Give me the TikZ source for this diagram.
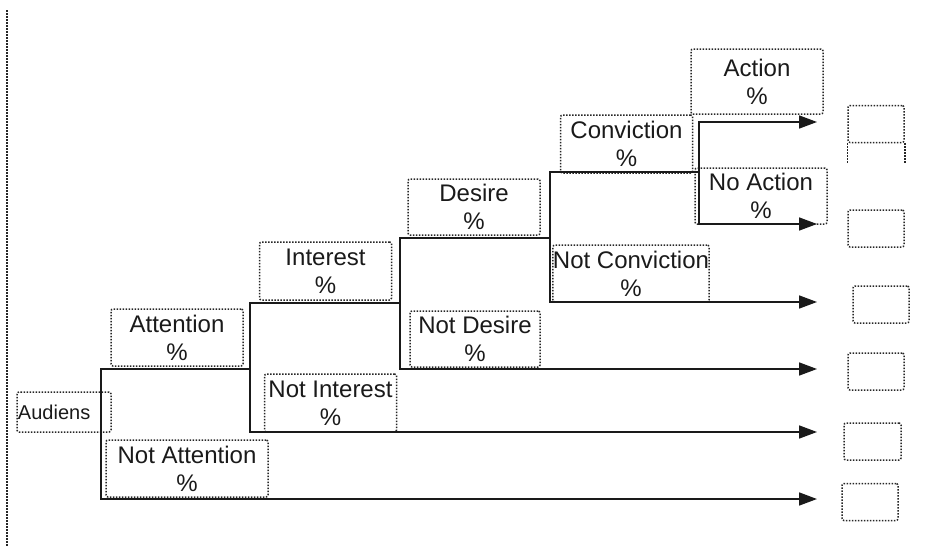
\documentclass[tikz,border=0pt]{standalone}
\usepackage{fontspec}
\setmainfont{Liberation Sans}
\usetikzlibrary{arrows.meta}
\definecolor{ink}{HTML}{1A1A1A}
\definecolor{dots}{HTML}{262626}
\tikzset{
  font=\fontsize{12}{14}\selectfont,
  >={Triangle[length=9pt,width=6.5pt]},
  dotline/.style={draw=dots, line width=0.75pt, dash pattern=on 0.75pt off 0.75pt},
  stage/.style={
    dotline, rounded corners=1pt, text=ink, align=center, inner sep=0pt,
    minimum width=66pt, minimum height=28.5pt
  },
  result/.style={
    dotline, rounded corners=1pt, inner sep=0pt, minimum width=28pt,
    minimum height=18.5pt
  },
  wire/.style={->, draw=ink, line width=0.8pt},
  frame/.style={dotline}
}

\begin{document}
\begin{tikzpicture}[x=0.5pt,y=-0.5pt]
  \useasboundingbox (0,0) rectangle (926,546);
  \draw[frame] (7,10) -- (7,546);

  \node[stage, minimum width=47pt, minimum height=20pt, text width=46pt,
        align=left, inner sep=0.5pt, font=\fontsize{10}{12}\selectfont]
        (aud) at (64,412) {Audiens};

  \node[stage]                      (att)   at (177,337.5) {Attention\\\%};
  \node[stage, minimum width=81pt]  (natt)  at (187,468.5) {Not Attention\\\%};
  \node[stage, minimum height=29pt] (int)   at (325.5,271) {Interest\\\%};
  \node[stage, minimum height=29pt] (nint)  at (330.5,403) {Not Interest\\\%};
  \node[stage, minimum height=28pt] (des)   at (474,207)   {Desire\\\%};
  \node[stage, minimum width=65pt, minimum height=28pt]
                                    (ndes)  at (475,339)   {Not Desire\\\%};
  \node[stage, minimum height=29pt] (conv)  at (626.5,144) {Conviction\\\%};
  \node[stage, minimum width=74pt]  (nconv) at (631,273.5) {Not Conviction\\\%};
  \node[stage, minimum height=32.5pt] (act) at (757,81.5)  {Action\\\%};
  \node[stage, minimum height=28pt] (nact)  at (761,196)   {No Action\\\%};

  % outcome boxes
  \node[result] (out-act)   at (876,124)   {};
  \node[result] (out-nact)  at (876,228.5) {};
  \node[result] (out-nconv) at (881,304.5) {};
  \node[result] (out-ndes)  at (876,371.5) {};
  \node[result, minimum width=28.5pt] (out-nint) at (872.5,441.5) {};
  \node[result] (out-natt)  at (870,502)   {};
  \draw[frame] (out-act.south west) -- ++(0,21);
  \draw[frame] (out-act.south east) -- ++(0,21);

  % split points
  \coordinate (tip)   at (817,0);
  \coordinate (a-top) at (101,369);
  \coordinate (a-bot) at (101,499);
  \coordinate (i-top) at (250,303);
  \coordinate (i-bot) at (250,432);
  \coordinate (d-top) at (400,238);
  \coordinate (d-bot) at (400,369);
  \coordinate (c-top) at (550,172);
  \coordinate (c-bot) at (550,302);
  \coordinate (x-top) at (699,122);
  \coordinate (x-bot) at (699,224);

  % branches
  \draw[wire] (i-top |- a-top) -- (a-top) -- (a-bot) -- (a-bot -| tip);
  \draw[wire] (d-top |- i-top) -- (i-top) -- (i-bot) -- (i-bot -| tip);
  \draw[wire] (c-top |- d-top) -- (d-top) -- (d-bot) -- (d-bot -| tip);
  \draw[wire] (x-top |- c-top) -- (c-top) -- (c-bot) -- (c-bot -| tip);
  \draw[wire, <->] (x-top -| tip) -- (x-top) -- (x-bot) -- (x-bot -| tip);
\end{tikzpicture}
\end{document}
